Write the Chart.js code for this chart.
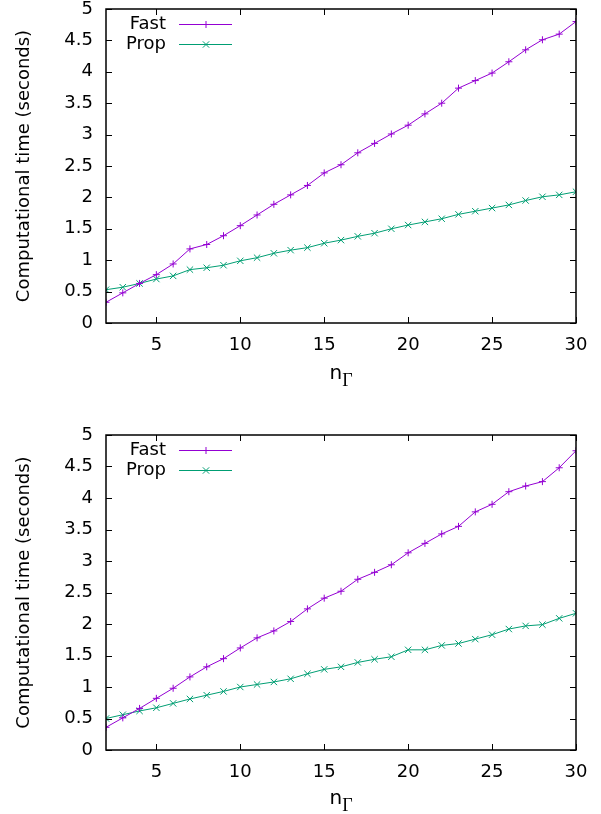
<!DOCTYPE html>
<html>
<head>
<meta charset="utf-8">
<script src="https://cdn.jsdelivr.net/npm/chart.js@4.4.1/dist/chart.umd.min.js"></script>
<style>
  body { margin: 0; background: #fff; }
  canvas { display: block; }
</style>
</head>
<body>
<canvas id="chartTop" width="601" height="407"></canvas>
<canvas id="chartBottom" width="601" height="407"></canvas>
<script>
// значения
const nGamma = [2, 3, 4, 5, 6, 7, 8, 9, 10, 11, 12, 13, 14, 15, 16, 17, 18, 19, 20, 21, 22, 23, 24, 25, 26, 27, 28, 29, 30];

const fastTop = [0.33, 0.48, 0.63, 0.77, 0.94, 1.18, 1.25, 1.39, 1.55, 1.72, 1.89, 2.04, 2.19, 2.39, 2.52, 2.71, 2.86, 3.01, 3.15, 3.33, 3.50, 3.74, 3.86, 3.98, 4.16, 4.35, 4.51, 4.60, 4.80];
const propTop = [0.53, 0.57, 0.63, 0.70, 0.75, 0.85, 0.88, 0.92, 0.99, 1.04, 1.11, 1.16, 1.20, 1.27, 1.32, 1.38, 1.43, 1.50, 1.56, 1.61, 1.66, 1.73, 1.78, 1.83, 1.88, 1.95, 2.01, 2.04, 2.09];

const fastBottom = [0.36, 0.51, 0.66, 0.82, 0.98, 1.16, 1.32, 1.45, 1.62, 1.78, 1.89, 2.04, 2.24, 2.41, 2.52, 2.71, 2.82, 2.94, 3.13, 3.28, 3.43, 3.55, 3.78, 3.90, 4.10, 4.19, 4.26, 4.48, 4.75];
const propBottom = [0.50, 0.56, 0.62, 0.67, 0.74, 0.81, 0.87, 0.93, 1.00, 1.04, 1.08, 1.13, 1.21, 1.28, 1.32, 1.39, 1.44, 1.48, 1.59, 1.59, 1.66, 1.69, 1.76, 1.83, 1.92, 1.97, 1.99, 2.09, 2.17];

const seriesNames = ['Fast', 'Prop'];
const xTicks = [5, 10, 15, 20, 25, 30];
const yTicks = [0, 0.5, 1, 1.5, 2, 2.5, 3, 3.5, 4, 4.5, 5];
const yTitle = 'Computational time (seconds)';

const FAST_COLOR = '#9400d3';
const PROP_COLOR = '#009e73';
const FONT = '"DejaVu Sans", Verdana, sans-serif';
const FONT_SIZE = 18;

// рамка и внутренние засечки как в gnuplot
const gnuplotFrame = {
  id: 'gnuplotFrame',
  afterDraw(chart) {
    const { ctx, chartArea: a, scales } = chart;
    const len = 6;
    ctx.save();
    ctx.strokeStyle = '#000';
    ctx.lineWidth = 1;
    ctx.beginPath();
    yTicks.forEach(v => {
      const y = Math.round(scales.y.getPixelForValue(v)) + 0.5;
      ctx.moveTo(a.left, y); ctx.lineTo(a.left + len, y);
      ctx.moveTo(a.right, y); ctx.lineTo(a.right - len, y);
    });
    xTicks.forEach(v => {
      const x = Math.round(scales.x.getPixelForValue(v)) + 0.5;
      ctx.moveTo(x, a.bottom); ctx.lineTo(x, a.bottom - len);
      ctx.moveTo(x, a.top); ctx.lineTo(x, a.top + len);
    });
    ctx.stroke();
    ctx.lineWidth = 1.5;
    ctx.strokeRect(Math.round(a.left), Math.round(a.top), Math.round(a.right - a.left), Math.round(a.bottom - a.top));
    ctx.restore();
  }
};

// легенда: текст справа, затем образец линии с маркером
const gnuplotLegend = {
  id: 'gnuplotLegend',
  afterDraw(chart) {
    const { ctx, chartArea: a } = chart;
    const styles = [
      { color: FAST_COLOR, mark: 'cross' },
      { color: PROP_COLOR, mark: 'crossRot' }
    ];
    ctx.save();
    ctx.font = FONT_SIZE + 'px ' + FONT;
    ctx.textAlign = 'right';
    ctx.textBaseline = 'middle';
    seriesNames.forEach((name, i) => {
      const y = a.top + 15.5 + i * 20;
      ctx.fillStyle = '#000';
      ctx.fillText(name, 166, y);
      ctx.strokeStyle = styles[i].color;
      ctx.lineWidth = 1;
      ctx.beginPath();
      ctx.moveTo(179, y); ctx.lineTo(232, y);
      ctx.stroke();
      Chart.helpers.drawPoint(ctx, {
        pointStyle: styles[i].mark,
        radius: styles[i].mark === 'cross' ? 3.5 : 4.5,
        rotation: 0,
        borderWidth: 1
      }, 206, y);
    });
    ctx.restore();
  }
};

// подпись оси x: n с индексом Γ
const xLabel = {
  id: 'xLabel',
  afterDraw(chart, args, opts) {
    const { ctx, chartArea: a } = chart;
    ctx.save();
    ctx.fillStyle = '#000';
    ctx.textBaseline = 'alphabetic';
    ctx.textAlign = 'left';
    const nFont = '20px ' + FONT;
    const gFont = '18px "Liberation Serif", "DejaVu Serif", serif';
    ctx.font = nFont;
    const wn = ctx.measureText('n').width;
    ctx.font = gFont;
    const wg = ctx.measureText('Γ').width;
    const x0 = (a.left + a.right) / 2 - (wn + wg) / 2;
    const base = a.bottom + opts.offset;
    ctx.font = nFont;
    ctx.fillText('n', x0, base);
    ctx.font = gFont;
    ctx.fillText('Γ', x0 + wn, base + 7);
    ctx.restore();
  }
};

function makeDataset(label, values, color, style, radius) {
  return {
    label,
    data: nGamma.map((x, i) => ({ x, y: values[i] })),
    borderColor: color,
    backgroundColor: color,
    borderWidth: 1,
    pointStyle: style,
    pointRadius: radius,
    pointBorderWidth: 1,
    tension: 0
  };
}

function buildConfig(fast, prop, padTop, xHeight, labelOffset) {
  return {
    type: 'line',
    data: {
      datasets: [
        makeDataset(seriesNames[0], fast, FAST_COLOR, 'cross', 3.5),
        makeDataset(seriesNames[1], prop, PROP_COLOR, 'crossRot', 4.5)
      ]
    },
    options: {
      responsive: false,
      animation: false,
      layout: { padding: { top: padTop, right: 25, bottom: 0, left: 0 } },
      plugins: {
        legend: { display: false },
        tooltip: { enabled: false },
        xLabel: { offset: labelOffset }
      },
      scales: {
        x: {
          type: 'linear',
          min: 2,
          max: 30,
          grid: { display: false, drawTicks: false },
          border: { display: false },
          afterBuildTicks: (scale) => { scale.ticks = xTicks.map(v => ({ value: v })); },
          afterFit: (scale) => {
            scale.height = xHeight;
            scale.paddingLeft = 0;
            scale.paddingRight = 0;
          },
          ticks: {
            color: '#000',
            padding: 12,
            maxRotation: 0,
            font: { family: FONT, size: FONT_SIZE }
          }
        },
        y: {
          min: 0,
          max: 5,
          grid: { display: false, drawTicks: false },
          border: { display: false },
          afterBuildTicks: (scale) => { scale.ticks = yTicks.map(v => ({ value: v })); },
          afterFit: (scale) => {
            scale.width = 106;
            scale.paddingTop = 0;
            scale.paddingBottom = 0;
          },
          ticks: {
            color: '#000',
            padding: 13,
            callback: (v) => String(v),
            font: { family: FONT, size: FONT_SIZE }
          },
          title: {
            display: true,
            text: yTitle,
            color: '#000',
            padding: { top: 14, bottom: 0 },
            font: { family: FONT, size: FONT_SIZE }
          }
        }
      }
    },
    plugins: [gnuplotFrame, gnuplotLegend, xLabel]
  };
}

new Chart(document.getElementById('chartTop'), buildConfig(fastTop, propTop, 9, 84, 56));
new Chart(document.getElementById('chartBottom'), buildConfig(fastBottom, propBottom, 28, 64, 54));
</script>
</body>
</html>
